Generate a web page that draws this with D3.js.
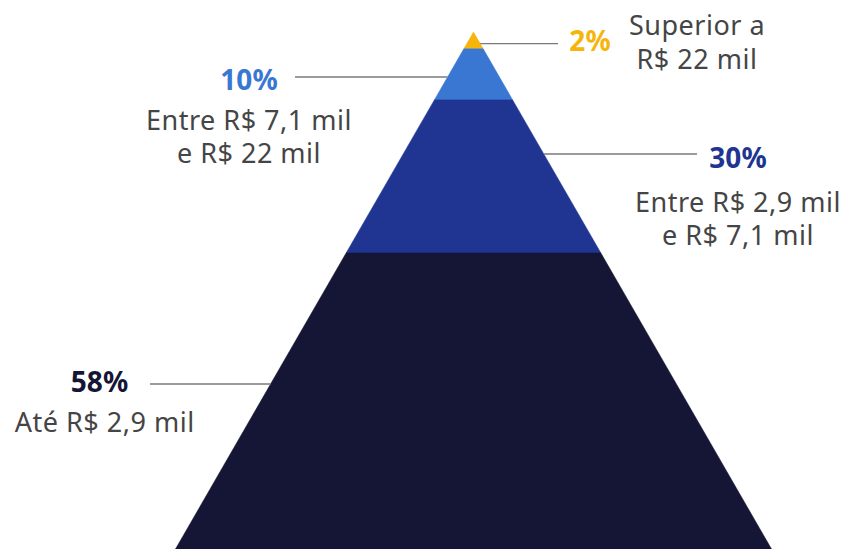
<!DOCTYPE html>
<html>
<head>
<meta charset="utf-8">
<script src="https://cdn.jsdelivr.net/npm/d3@7"></script>
<style>
  html, body { margin: 0; padding: 0; background: #fff; }
  svg { display: block; }
</style>
</head>
<body>
<svg id="chart" width="849" height="549"></svg>
<script>
// ---- data (bottom layer first) ----
const categories = [
  ["Até R$ 2,9 mil"],
  ["Entre R$ 2,9 mil", "e R$ 7,1 mil"],
  ["Entre R$ 7,1 mil", "e R$ 22 mil"],
  ["Superior a", "R$ 22 mil"]
];
const values = [58, 30, 10, 2];
const valueLabels = ["58%", "30%", "10%", "2%"];

// ---- styles / layout ----
const fills = ["#151535", "#1f3591", "#3a77d2", "#f6b50b"];
const labelColors = ["#151535", "#1f3591", "#3a77d2", "#f6b50b"];
const textColor = "#454545";
const fontFamily = "'Noto Sans', Roboto, sans-serif";
const layout = [
  { lineY: 384, side: "left",  outer: 150, px: 99.5, py: 392, dx: 104.7, dy: [432] },
  { lineY: 154, side: "right", outer: 697, px: 738,  py: 168, dx: 738,   dy: [212, 245] },
  { lineY: 77,  side: "left",  outer: 295, px: 249,  py: 90,  dx: 249,   dy: [130, 163] },
  { lineY: 43.7,side: "right", outer: 558, px: 590,  py: 51,  dx: 697,   dy: [35, 69] }
];

const svg = d3.select("#chart");
const apexX = 473.5, apexY = 32, baseY = 549, baseHalf = 298;
const minShare = 3.3;

const shown = values.map(v => Math.max(v, minShare));
const total = d3.sum(shown);
const yScale = d3.scaleLinear().domain([0, total]).range([apexY, baseY]);
const halfW = d3.scaleLinear().domain([apexY, baseY]).range([0, baseHalf]);

const n = values.length;
let cum = 0;
const layers = [];
for (let i = n - 1; i >= 0; i--) {
  const top = cum;
  cum += shown[i];
  layers.push({ i, y0: yScale(top), y1: yScale(cum) });
}

svg.append("g").selectAll("path")
  .data(layers)
  .join("path")
  .attr("d", d => {
    const w0 = halfW(d.y0), w1 = halfW(d.y1);
    return `M${apexX - w0},${d.y0}L${apexX + w0},${d.y0}L${apexX + w1},${d.y1}L${apexX - w1},${d.y1}Z`;
  })
  .attr("fill", d => fills[d.i])
  .attr("stroke", d => fills[d.i])
  .attr("stroke-width", 0.5);

svg.append("g").selectAll("line")
  .data(layout)
  .join("line")
  .attr("x1", d => d.outer)
  .attr("x2", d => d.side === "left" ? apexX - halfW(d.lineY) : apexX + halfW(d.lineY))
  .attr("y1", d => d.lineY)
  .attr("y2", d => d.lineY)
  .attr("stroke", "#7a7a7a")
  .attr("stroke-width", 1.3);

svg.append("g").selectAll("text")
  .data(layout)
  .join("text")
  .attr("x", d => d.px)
  .attr("y", d => d.py)
  .attr("text-anchor", "middle")
  .attr("font-family", fontFamily)
  .attr("font-weight", 700)
  .attr("font-size", 28)
  .attr("fill", (d, i) => labelColors[i])
  .text((d, i) => valueLabels[i]);

layout.forEach((d, i) => {
  const t = svg.append("text")
    .attr("text-anchor", "middle")
    .attr("font-family", fontFamily)
    .attr("font-size", 27)
    .attr("letter-spacing", 0.5)
    .attr("fill", textColor);
  categories[i].forEach((line, j) => {
    t.append("tspan").attr("x", d.dx).attr("y", d.dy[j]).text(line);
  });
});
</script>
</body>
</html>
